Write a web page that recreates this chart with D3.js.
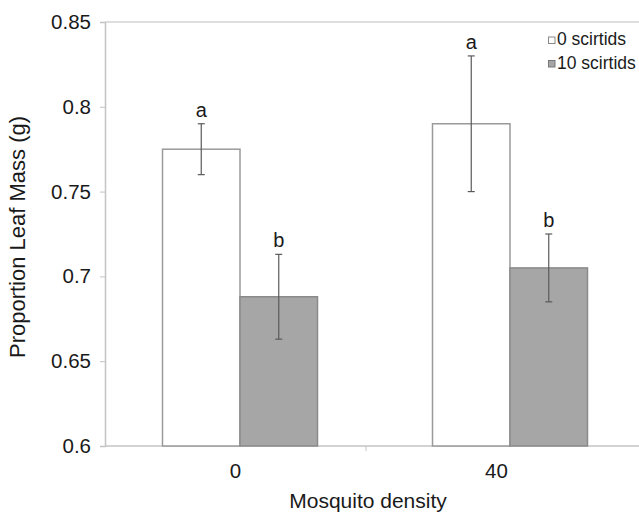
<!DOCTYPE html>
<html><head><meta charset="utf-8">
<script src="https://cdn.jsdelivr.net/npm/d3@7/dist/d3.min.js"></script>
<style>body{margin:0;background:#fff}svg{display:block}text{font-family:"Liberation Sans",Arial,sans-serif;fill:#1a1a1a}</style>
</head><body><svg id="c" width="639" height="516"></svg>
<script>
const categories = ["0", "40"];
const seriesNames = ["0 scirtids", "10 scirtids"];
const means0 = [0.775, 0.790];
const means10 = [0.688, 0.705];
const err0 = [0.015, 0.040];
const err10 = [0.025, 0.020];
const letters0 = ["a", "a"];
const letters10 = ["b", "b"];
const yTicks = [0.6, 0.65, 0.7, 0.75, 0.8, 0.85];

const svg = d3.select("#c");
const mLeft = 105, mRight = 639, mTop = 22, mBottom = 446;
const y = d3.scaleLinear().domain([0.6, 0.85]).range([mBottom, mTop]);
const xAxisScale = d3.scaleBand().domain(categories).range([mLeft, 627]);
const xBars = d3.scaleBand().domain(categories).range([mLeft, 645]).paddingInner(0).paddingOuter(0);
const groupW = 155;
const xSub = d3.scaleBand().domain(seriesNames).range([0, groupW]);
const fills = ["#ffffff", "#a6a6a6"];
const strokes = ["#9a9a9a", "#8a8a8a"];

// top border line
svg.append("line").attr("x1", mLeft).attr("x2", mRight).attr("y1", y(0.85)).attr("y2", y(0.85))
  .attr("stroke", "#bdbdbd").attr("stroke-width", 1.2);

// y axis
const ya = svg.append("g").attr("transform", `translate(${mLeft},0)`)
  .call(d3.axisLeft(y).tickValues(yTicks).tickSize(5).tickPadding(9).tickFormat(d => String(d)));
ya.select(".domain").attr("stroke", "#c4c4c4").attr("stroke-width", 1.5);
ya.selectAll(".tick line").attr("stroke", "#c4c4c4");
ya.selectAll(".tick text").style("font-size", "20.5px").attr("fill", "#1a1a1a").style("font-family", "Liberation Sans, Arial, sans-serif");

// x axis
svg.append("line").attr("x1", mLeft).attr("x2", mRight).attr("y1", mBottom).attr("y2", mBottom)
  .attr("stroke", "#c4c4c4").attr("stroke-width", 1.5);
const midTicks = [xAxisScale.step() + mLeft];
svg.selectAll(".xt").data(midTicks).enter().append("line")
  .attr("x1", d => d).attr("x2", d => d).attr("y1", mBottom).attr("y2", mBottom + 5)
  .attr("stroke", "#c4c4c4");
svg.selectAll(".xl").data(categories).enter().append("text")
  .attr("x", d => xAxisScale(d) + xAxisScale.bandwidth() / 2).attr("y", 478)
  .attr("text-anchor", "middle").style("font-size", "20.5px").text(d => d);

const series = [
  {name: seriesNames[0], means: means0, err: err0, letters: letters0, i: 0},
  {name: seriesNames[1], means: means10, err: err10, letters: letters10, i: 1}
];
const groupX = c => xBars(c) + (xBars.bandwidth() - groupW) / 2;

series.forEach(s => {
  const g = svg.append("g");
  categories.forEach((c, k) => {
    const x0 = groupX(c) + xSub(s.name);
    const w = xSub.bandwidth();
    g.append("rect").attr("x", x0).attr("y", y(s.means[k])).attr("width", w)
      .attr("height", y(0.6) - y(s.means[k])).attr("fill", fills[s.i])
      .attr("stroke", strokes[s.i]).attr("stroke-width", 1.5);
    const cx = x0 + w / 2;
    const hi = y(s.means[k] + s.err[k]), lo = y(s.means[k] - s.err[k]);
    g.append("line").attr("x1", cx).attr("x2", cx).attr("y1", hi).attr("y2", lo).attr("stroke", "#5a5a5a").attr("stroke-width", 1.2);
    [hi, lo].forEach(yy => g.append("line").attr("x1", cx - 3.5).attr("x2", cx + 3.5).attr("y1", yy).attr("y2", yy).attr("stroke", "#5a5a5a").attr("stroke-width", 1.2));
    g.append("text").attr("x", cx).attr("y", hi - 7).attr("text-anchor", "middle")
      .style("font-size", "20px").text(s.letters[k]);
  });
});

// legend
const lg = svg.append("g");
seriesNames.forEach((n, i) => {
  const yy = 45 + i * 23.5;
  lg.append("rect").attr("x", 548.5).attr("y", yy - 8).attr("width", 6.5).attr("height", 6.5)
    .attr("fill", fills[i]).attr("stroke", i ? "#777" : "#888").attr("stroke-width", 1);
  lg.append("text").attr("x", 557).attr("y", yy).style("font-size", "17.5px").text(n);
});

// axis titles
svg.append("text").attr("transform", `translate(25,${(mTop + mBottom) / 2 + 3}) rotate(-90)`)
  .attr("text-anchor", "middle").style("font-size", "22px").text("Proportion Leaf Mass (g)");
svg.append("text").attr("x", 368).attr("y", 508).attr("text-anchor", "middle")
  .style("font-size", "21px").text("Mosquito density");
</script></body></html>
